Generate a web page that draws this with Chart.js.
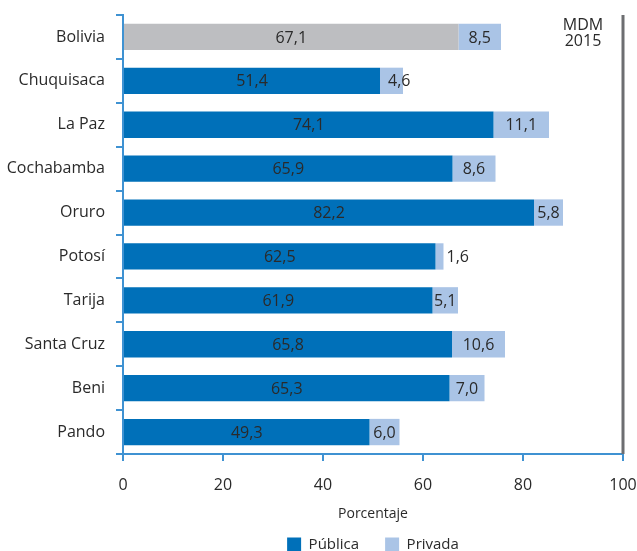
<!DOCTYPE html>
<html><head><meta charset="utf-8">
<script src="https://cdn.jsdelivr.net/npm/chart.js@4"></script>
<style>html,body{margin:0;padding:0;background:#fff}</style>
</head><body>
<canvas id="c" width="637" height="551"></canvas>
<script>
const categories = ['Bolivia','Chuquisaca','La Paz','Cochabamba','Oruro','Potosí','Tarija','Santa Cruz','Beni','Pando'];
const publica = [67.1,51.4,74.1,65.9,82.2,62.5,61.9,65.8,65.3,49.3];
const privada = [8.5,4.6,11.1,8.6,5.8,1.6,5.1,10.6,7.0,6.0];
const xTicks = [0,20,40,60,80,100];
const seriesNames = ['Pública','Privada'];
const axisTitle = 'Porcentaje';
const noteLines = ['MDM','2015'];

const BLUE = '#0070b9', LIGHT = '#aac4e6', GRAY = '#bdbec1', AXIS = '#3f92d2', TEXT = '#2a2a2a';
const FONT = "'Open Sans', sans-serif";
const fmt = v => v.toFixed(1).replace('.', ',');

const labelPlugin = {
  id: 'labels',
  afterLayout(chart) {
    if (chart.legend) {
      chart.legend.left = chart.chartArea.left;
      chart.legend.right = chart.chartArea.right;
    }
  },
  afterDatasetsDraw(chart) {
    const ctx = chart.ctx;
    ctx.save();
    ctx.font = '16px ' + FONT;
    ctx.fillStyle = TEXT;
    ctx.textBaseline = 'middle';
    chart.data.datasets.forEach((ds, di) => {
      const meta = chart.getDatasetMeta(di);
      meta.data.forEach((bar, i) => {
        const txt = fmt(ds.data[i]);
        const tw = ctx.measureText(txt).width;
        const left = Math.min(bar.x, bar.base), right = Math.max(bar.x, bar.base);
        const w = right - left;
        if (di === 0 || w >= tw + 3) {
          ctx.textAlign = 'center';
          ctx.fillText(txt, (left + right) / 2, bar.y + 1);
        } else if (w > tw * 0.6) {
          ctx.textAlign = 'left';
          ctx.fillText(txt, left + 8, bar.y + 1);
        } else {
          ctx.textAlign = 'left';
          ctx.fillText(txt, right + 3, bar.y + 1);
        }
      });
    });
    ctx.restore();
  },
  afterDraw(chart) {
    const {ctx, chartArea} = chart;
    ctx.save();
    ctx.strokeStyle = '#6d6e71';
    ctx.lineWidth = 3;
    ctx.beginPath();
    ctx.moveTo(chartArea.right, chartArea.top);
    ctx.lineTo(chartArea.right, chartArea.bottom);
    ctx.stroke();
    ctx.font = '16px ' + FONT;
    ctx.fillStyle = TEXT;
    ctx.textAlign = 'center';
    ctx.textBaseline = 'middle';
    noteLines.forEach((t, k) => ctx.fillText(t, chartArea.right - 40, 25 + k * 16));
    ctx.restore();
  }
};

new Chart(document.getElementById('c'), {
  type: 'bar',
  data: {
    labels: categories,
    datasets: [
      { label: seriesNames[0], data: publica, backgroundColor: categories.map((c, i) => i === 0 ? GRAY : BLUE), borderWidth: 0 },
      { label: seriesNames[1], data: privada, backgroundColor: LIGHT, borderWidth: 0 }
    ]
  },
  options: {
    indexAxis: 'y',
    responsive: false,
    animation: false,
    devicePixelRatio: 1,
    layout: { padding: { top: 15, right: 14, left: 0, bottom: -11 } },
    datasets: { bar: { barPercentage: 0.6, categoryPercentage: 1 } },
    scales: {
      x: {
        stacked: true, min: 0, max: 100,
        afterBuildTicks: s => { s.ticks = xTicks.map(v => ({ value: v })); },
        afterFit: s => { s.paddingRight = 0; s.paddingLeft = 0; },
        grid: { drawOnChartArea: false, color: AXIS, tickLength: 7, lineWidth: 2 },
        border: { color: AXIS, width: 2 },
        ticks: { color: TEXT, font: { size: 16, family: FONT }, padding: 15, maxRotation: 0 },
        title: { display: true, text: axisTitle, color: TEXT, font: { size: 14, family: FONT }, padding: { top: -5, bottom: -11 } }
      },
      y: {
        stacked: true,
        afterFit: s => { s.width = 123; s.paddingTop = 0; s.paddingBottom = 0; },
        grid: { drawOnChartArea: false, color: AXIS, tickLength: 7, lineWidth: 2, offset: true },
        border: { color: AXIS, width: 2 },
        ticks: { color: TEXT, font: { size: 16, family: FONT }, padding: 11 }
      }
    },
    plugins: {
      legend: {
        position: 'bottom',
        labels: {
          color: TEXT, font: { size: 15, family: FONT }, boxWidth: 14, boxHeight: 14, padding: 26,
          generateLabels: chart => chart.data.datasets.map((ds, i) => ({
            text: ds.label, fillStyle: i === 0 ? BLUE : LIGHT, strokeStyle: 'rgba(0,0,0,0)', lineWidth: 0,
            fontColor: TEXT, hidden: false, datasetIndex: i
          }))
        }
      },
      tooltip: { enabled: false }
    }
  },
  plugins: [labelPlugin]
});
</script>
</body></html>
